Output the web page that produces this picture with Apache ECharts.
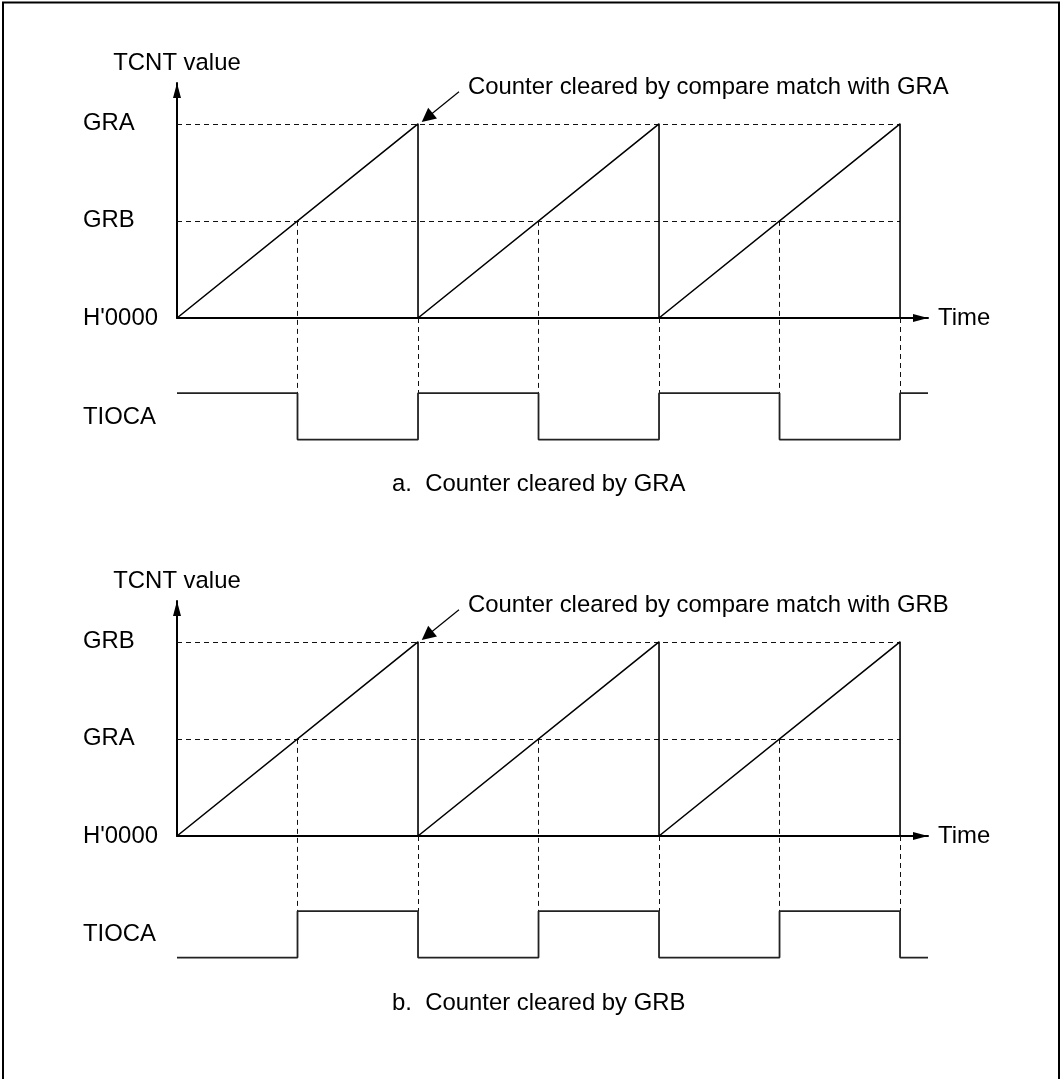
<!DOCTYPE html>
<html><head><meta charset="utf-8">
<script src="https://cdn.jsdelivr.net/npm/echarts@6/dist/echarts.min.js"></script>
<style>html,body{margin:0;padding:0;background:#fff}#c{width:1061px;height:1079px}</style>
</head><body><div id="c"></div>
<script>
// ---- data (time in counter periods, TCNT value in units of the clearing register) ----
const timeMax = 3.116;
const tcntMax = 1.21;
const tickValues = [0, 0.5, 1];
const ticksA = ["H'0000", "GRB", "GRA"];
const ticksB = ["H'0000", "GRA", "GRB"];
const counterA = [[0,0],[1,1],[1,0],[2,1],[2,0],[3,1],[3,0]];
const counterB = [[0,0],[1,1],[1,0],[2,1],[2,0],[3,1],[3,0]];
// TIOCA logical level (1 = high, 0 = low) at each change time
const tiocaA = [[0,1],[0.5,0],[1,1],[1.5,0],[2,1],[2.5,0],[3,1],[3.116,1]];
const tiocaB = [[0,0],[0.5,1],[1,0],[1.5,1],[2,0],[2.5,1],[3,0],[3.116,0]];
// drawing levels of the TIOCA trace on the TCNT scale
const tiocaHighLevel = -0.387;
const tiocaLowLevel = -0.626;
// compare levels drawn as dashed guides
const compareLevels = [0.5, 1];
const compareEnd = 3;
// compare-match times (counter crossing the lower register) and clear times
const matchTimes = [0.5, 1.5, 2.5];
const matchValue = 0.5;
const clearTimes = [1, 2, 3];
// annotation arrow (tail -> head) in data units
const noteArrow = [[1.170, 1.165], [1.038, 1.032]];
const noteA = 'Counter cleared by compare match with GRA';
const noteB = 'Counter cleared by compare match with GRB';
const captionA = 'a.  Counter cleared by GRA';
const captionB = 'b.  Counter cleared by GRB';

const FONT = '"Liberation Sans", Arial, Helvetica, sans-serif';
const FS = 23.9;
const chart = echarts.init(document.getElementById('c'), null, {renderer: 'canvas'});

const grids = [
  {left: 177, top: 83, width: 751, height: 235},
  {left: 177, top: 601, width: 751, height: 235}
];

function xAxis(i) {
  return {
    type: 'value', gridIndex: i, min: 0, max: timeMax, interval: 1,
    axisLine: {show: true, lineStyle: {color: '#000', width: 2}, symbol: ['none', 'triangle'], symbolSize: [8, 15], symbolOffset: [0, -7.5]},
    axisTick: {show: false}, axisLabel: {show: false}, splitLine: {show: false},
    name: 'Time', nameLocation: 'end', nameGap: 10,
    nameTextStyle: {color: '#000', fontSize: FS, fontFamily: FONT, verticalAlign: 'middle', align: 'left'}
  };
}
function yAxis(i, labels) {
  return {
    type: 'value', gridIndex: i, min: 0, max: tcntMax, interval: 0.5,
    axisLine: {show: true, lineStyle: {color: '#000', width: 2}, symbol: ['none', 'triangle'], symbolSize: [8, 15], symbolOffset: [0, -7.5]},
    axisTick: {show: false}, splitLine: {show: false},
    axisLabel: {
      show: true, align: 'left', margin: 94, color: '#000', fontSize: FS, fontFamily: FONT,
      showMaxLabel: false,
      formatter: function (v) { const k = tickValues.indexOf(v); return k >= 0 ? labels[k] : ''; }
    },
    name: 'TCNT value', nameLocation: 'end', nameGap: 8,
    nameTextStyle: {color: '#000', fontSize: FS, fontFamily: FONT, align: 'center', verticalAlign: 'bottom', padding: 0}
  };
}

function guideSegments() {
  const segs = [];
  compareLevels.forEach(v => segs.push({coords: [[0, v], [compareEnd, v]]}));
  matchTimes.forEach(t => segs.push({coords: [[t, matchValue], [t, tiocaHighLevel]]}));
  clearTimes.forEach(t => segs.push({coords: [[t, 0], [t, tiocaHighLevel]]}));
  return segs;
}
function tiocaData(arr) {
  return arr.map(p => [p[0], p[1] ? tiocaHighLevel : tiocaLowLevel]);
}

const series = [];
[[counterA, tiocaA], [counterB, tiocaB]].forEach((pair, i) => {
  series.push({
    type: 'lines', coordinateSystem: 'cartesian2d', xAxisIndex: i, yAxisIndex: i, clip: false,
    silent: true, symbol: 'none', polyline: false,
    lineStyle: {color: '#111', width: 1, type: [5, 4], opacity: 1},
    data: guideSegments(), z: 1
  });
  series.push({
    type: 'line', xAxisIndex: i, yAxisIndex: i, data: pair[0], clip: false, silent: true,
    showSymbol: false, symbol: 'none', lineStyle: {color: '#000', width: 1.6}, z: 3, animation: false
  });
  series.push({
    type: 'line', xAxisIndex: i, yAxisIndex: i, data: tiocaData(pair[1]), step: 'end', clip: false, silent: true,
    showSymbol: false, symbol: 'none', lineStyle: {color: '#222', width: 1.8}, z: 3, animation: false
  });
  series.push({
    type: 'lines', coordinateSystem: 'cartesian2d', xAxisIndex: i, yAxisIndex: i, clip: false, silent: true,
    symbol: ['none', 'triangle'], symbolSize: [8, 14],
    lineStyle: {color: '#000', width: 1.2, opacity: 1},
    data: [{coords: noteArrow}], z: 4
  });
});

function txt(x, y, s, align) {
  return {type: 'text', x: x, y: y, silent: true,
    style: {text: s, fill: '#000', font: FS + 'px ' + FONT, textAlign: align || 'left', textVerticalAlign: 'middle'}};
}

chart.setOption({
  animation: false,
  backgroundColor: '#fff',
  grid: grids,
  xAxis: [xAxis(0), xAxis(1)],
  yAxis: [yAxis(0, ticksA), yAxis(1, ticksB)],
  series: series,
  graphic: [
    {type: 'rect', silent: true, shape: {x: 3, y: 2.5, width: 1056, height: 1100}, style: {fill: 'none', stroke: '#000', lineWidth: 2}},
    txt(468, 87, noteA),
    txt(468, 605, noteB),
    txt(83, 417, 'TIOCA'),
    txt(83, 934, 'TIOCA'),
    txt(392, 484, captionA),
    txt(392, 1003, captionB)
  ]
});
</script></body></html>
